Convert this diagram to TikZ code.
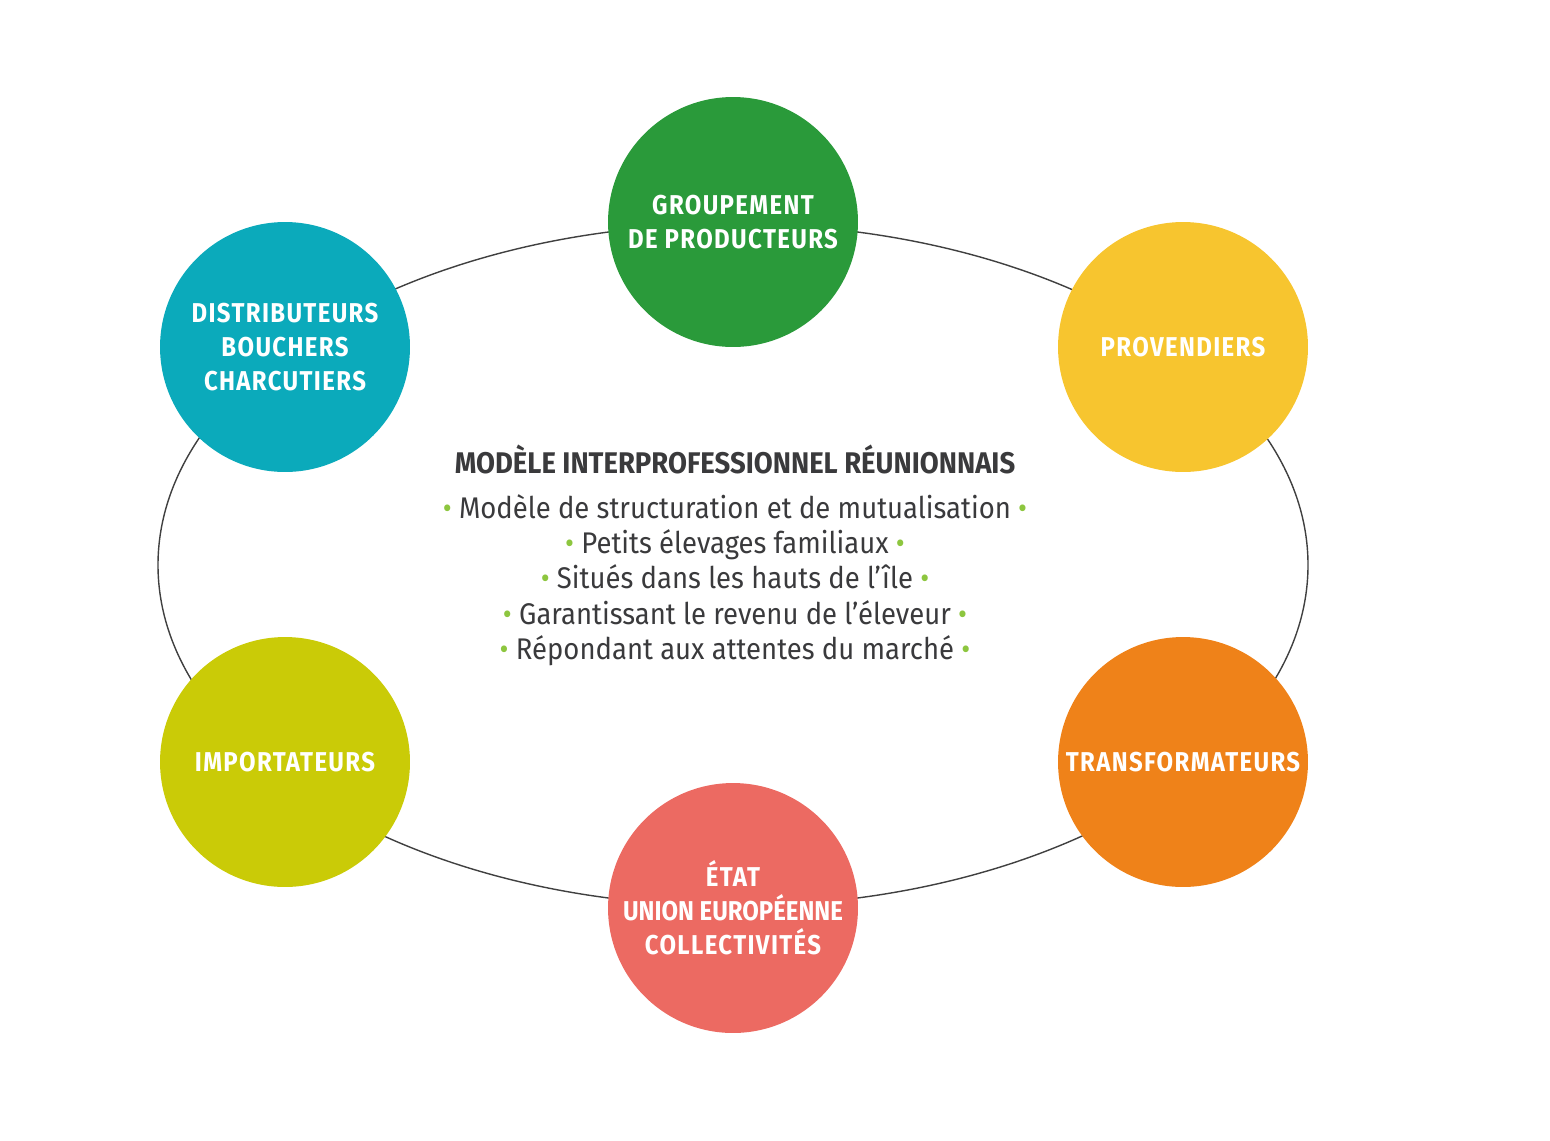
\documentclass[tikz,border=0pt]{standalone}
\usepackage{fontspec}
\setmainfont[FakeStretch=0.92]{Fira Sans}
\newfontfamily\actorfont[FakeStretch=0.88,LetterSpace=5]{Fira Sans}
\usepackage{tikz}
\definecolor{cgreen}{HTML}{2A9A3A}
\definecolor{cteal}{HTML}{0BAABB}
\definecolor{cyellow}{HTML}{F7C52F}
\definecolor{colive}{HTML}{CACB07}
\definecolor{csalmon}{HTML}{EC6A62}
\definecolor{corange}{HTML}{EF8219}
\definecolor{cbullet}{HTML}{8DC63F}
\definecolor{ctext}{HTML}{3A3A3C}
\newcommand{\bul}{\textcolor{cbullet}{\textbullet}}

\begin{document}
\begin{tikzpicture}[x=0.02cm, y=-0.02cm,
  actor/.style={circle, minimum size=5cm, inner sep=-4mm, align=center,
    text=white, font=\actorfont\bfseries\fontsize{15.5}{19.3}\selectfont},
  ring/.style={draw=black!75, line width=0.8pt}]
%
\useasboundingbox (0,0) rectangle (1550,1140);
%
\coordinate (O) at (733,565);
\draw[ring] (O) ellipse [x radius=575, y radius=341];
%
\node (A1) [actor, fill=cgreen]   at (733,222) {GROUPEMENT\\DE PRODUCTEURS};
\node (A2) [actor, fill=cyellow]  at (1183,347) {PROVENDIERS};
\node (A3) [actor, fill=corange]  at (1183,762) {TRANSFORMATEURS};
\node (A4) [actor, fill=csalmon]  at (733,908)
  {ÉTAT\\{\addfontfeature{LetterSpace=0}UNION EUROPÉENNE}\\COLLECTIVITÉS};
\node (A5) [actor, fill=colive]   at (285,762) {IMPORTATEURS};
\node (A6) [actor, fill=cteal]    at (285,347) {DISTRIBUTEURS\\BOUCHERS\\CHARCUTIERS};
%
\node (T) [text=ctext, font=\bfseries\fontsize{17}{19}\selectfont] at (735,459)
  {MODÈLE INTERPROFESSIONNEL RÉUNIONNAIS};
\node (L) [text=ctext, align=center, font=\fontsize{17}{20.1}\selectfont] at (735,580)
  {\bul\ Modèle de structuration et de mutualisation \bul\\
   \bul\ Petits élevages familiaux \bul\\
   \bul\ Situés dans les hauts de l’île \bul\\
   \bul\ Garantissant le revenu de l’éleveur \bul\\
   \bul\ Répondant aux attentes du marché \bul};
\end{tikzpicture}
\end{document}
